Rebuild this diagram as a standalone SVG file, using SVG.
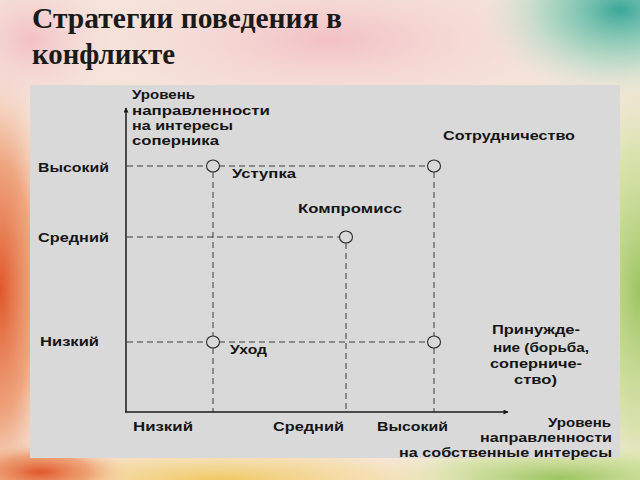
<svg xmlns="http://www.w3.org/2000/svg" width="640" height="480" viewBox="0 0 640 480">
<defs>
<radialGradient id="gOrange" cx="0.5" cy="0.5" r="0.5"><stop offset="0" stop-color="#e0562a"/><stop offset="0.55" stop-color="#ec9060" stop-opacity="0.75"/><stop offset="1" stop-color="#f4c8a8" stop-opacity="0"/></radialGradient>
<radialGradient id="gTeal" cx="0.5" cy="0.5" r="0.5"><stop offset="0" stop-color="#3aa89a"/><stop offset="0.5" stop-color="#8fd0b8" stop-opacity="0.7"/><stop offset="1" stop-color="#cfe8d8" stop-opacity="0"/></radialGradient>
<radialGradient id="gGreen" cx="0.5" cy="0.5" r="0.5"><stop offset="0" stop-color="#9cc460"/><stop offset="0.6" stop-color="#cbe296" stop-opacity="0.65"/><stop offset="1" stop-color="#e8f0c8" stop-opacity="0"/></radialGradient>
<radialGradient id="gYellow" cx="0.5" cy="0.5" r="0.5"><stop offset="0" stop-color="#f0c860"/><stop offset="0.6" stop-color="#f6dca0" stop-opacity="0.65"/><stop offset="1" stop-color="#f8ecd0" stop-opacity="0"/></radialGradient>
<radialGradient id="gPink" cx="0.5" cy="0.5" r="0.5"><stop offset="0" stop-color="#f3c0c6"/><stop offset="1" stop-color="#f6dcd8" stop-opacity="0"/></radialGradient>
<marker id="arr" viewBox="0 0 10 10" refX="9" refY="5" markerWidth="7" markerHeight="5" orient="auto" markerUnits="userSpaceOnUse">
<path d="M0,0 L10,5 L0,10 Z" fill="#1a1a1a"/>
</marker>
<style>
.lbl{font-family:"Liberation Sans",Arial,sans-serif;font-weight:bold;font-size:12.5px;fill:#151515}
.dash{stroke:#3a3a3a;stroke-width:1;stroke-dasharray:6 4;fill:none}
.axis{stroke:#1a1a1a;stroke-width:1.5;fill:none}
.pt{fill:#d9d9d9;stroke:#2a2a2a;stroke-width:1.1}
.title{font-family:"Liberation Serif","Times New Roman",serif;font-weight:bold;font-size:29px;fill:#1a1a1a}
</style>
</defs>
<!-- background -->
<rect x="0" y="0" width="640" height="480" fill="#f5e4da"/>
<ellipse cx="330" cy="40" rx="260" ry="80" fill="url(#gPink)"/>
<ellipse cx="0" cy="290" rx="60" ry="230" fill="url(#gOrange)"/>
<ellipse cx="30" cy="40" rx="90" ry="80" fill="url(#gPink)"/>
<ellipse cx="620" cy="10" rx="140" ry="90" fill="url(#gTeal)"/>
<ellipse cx="640" cy="290" rx="80" ry="230" fill="url(#gGreen)"/>
<ellipse cx="560" cy="478" rx="200" ry="38" fill="url(#gGreen)"/>
<ellipse cx="220" cy="480" rx="260" ry="38" fill="url(#gYellow)"/>
<ellipse cx="40" cy="472" rx="90" ry="30" fill="url(#gOrange)"/>
<!-- title -->
<g id="title">
<text class="title" x="32" y="28" textLength="310" lengthAdjust="spacingAndGlyphs">Стратегии поведения в</text>
<text class="title" x="32" y="64" textLength="143" lengthAdjust="spacingAndGlyphs">конфликте</text>
</g>
<!-- panel -->
<rect id="panel" x="30" y="85" width="590" height="373" fill="#d9d9d9"/>
<!-- connectors -->
<g id="connectors">
<line class="dash" x1="127" y1="166" x2="207" y2="166"/>
<line class="dash" x1="219" y1="166" x2="428" y2="166"/>
<line class="dash" x1="127" y1="237" x2="340" y2="237"/>
<line class="dash" x1="127" y1="342" x2="207" y2="342"/>
<line class="dash" x1="219" y1="342" x2="428" y2="342"/>
<line class="dash" x1="213" y1="172" x2="213" y2="336"/>
<line class="dash" x1="213" y1="348" x2="213" y2="412"/>
<line class="dash" x1="346" y1="243" x2="346" y2="412"/>
<line class="dash" x1="434" y1="172" x2="434" y2="336"/>
<line class="dash" x1="434" y1="348" x2="434" y2="412"/>
<line class="axis" x1="126" y1="412" x2="126" y2="108" marker-end="url(#arr)"/>
<line class="axis" x1="125" y1="412" x2="508" y2="412" marker-end="url(#arr)"/>
</g>
<!-- axis labels -->
<g id="y-axis-label">
<text class="lbl" x="132" y="99" textLength="63" lengthAdjust="spacingAndGlyphs">Уровень</text>
<text class="lbl" x="132" y="115" textLength="138" lengthAdjust="spacingAndGlyphs">направленности</text>
<text class="lbl" x="132" y="130" textLength="101" lengthAdjust="spacingAndGlyphs">на интересы</text>
<text class="lbl" x="132" y="145" textLength="87" lengthAdjust="spacingAndGlyphs">соперника</text>
</g>
<g id="y-ticks">
<text class="lbl" x="38" y="172" textLength="71" lengthAdjust="spacingAndGlyphs">Высокий</text>
<text class="lbl" x="38" y="242" textLength="71" lengthAdjust="spacingAndGlyphs">Средний</text>
<text class="lbl" x="40" y="346" textLength="59" lengthAdjust="spacingAndGlyphs">Низкий</text>
</g>
<g id="x-ticks">
<text class="lbl" x="133" y="431" textLength="60" lengthAdjust="spacingAndGlyphs">Низкий</text>
<text class="lbl" x="273" y="431" textLength="71" lengthAdjust="spacingAndGlyphs">Средний</text>
<text class="lbl" x="377" y="431" textLength="71" lengthAdjust="spacingAndGlyphs">Высокий</text>
</g>
<g id="x-axis-label">
<text class="lbl" x="611" y="427" text-anchor="end" textLength="63" lengthAdjust="spacingAndGlyphs">Уровень</text>
<text class="lbl" x="612" y="442" text-anchor="end" textLength="132" lengthAdjust="spacingAndGlyphs">направленности</text>
<text class="lbl" x="612" y="457" text-anchor="end" textLength="213" lengthAdjust="spacingAndGlyphs">на собственные интересы</text>
</g>
<!-- nodes -->
<g id="node-ustupka">
<ellipse class="pt" cx="213" cy="166" rx="6.5" ry="6"/>
<text class="lbl" x="232" y="178" textLength="64" lengthAdjust="spacingAndGlyphs">Уступка</text>
</g>
<g id="node-sotrudnichestvo">
<ellipse class="pt" cx="434" cy="166" rx="6.5" ry="6"/>
<text class="lbl" x="443" y="140" textLength="132" lengthAdjust="spacingAndGlyphs">Сотрудничество</text>
</g>
<g id="node-kompromiss">
<ellipse class="pt" cx="346" cy="237" rx="6.5" ry="6"/>
<text class="lbl" x="298" y="213" textLength="104" lengthAdjust="spacingAndGlyphs">Компромисс</text>
</g>
<g id="node-uhod">
<ellipse class="pt" cx="213" cy="342" rx="6.5" ry="6"/>
<text class="lbl" x="230" y="354" textLength="37" lengthAdjust="spacingAndGlyphs">Уход</text>
</g>
<g id="node-prinuzhdenie">
<ellipse class="pt" cx="434" cy="342" rx="6.5" ry="6"/>
<text class="lbl" x="492" y="334" textLength="88" lengthAdjust="spacingAndGlyphs">Принужде-</text>
<text class="lbl" x="493" y="352" textLength="96" lengthAdjust="spacingAndGlyphs">ние (борьба,</text>
<text class="lbl" x="490" y="368" textLength="92" lengthAdjust="spacingAndGlyphs">соперниче-</text>
<text class="lbl" x="514" y="384" textLength="43" lengthAdjust="spacingAndGlyphs">ство)</text>
</g>
</svg>
